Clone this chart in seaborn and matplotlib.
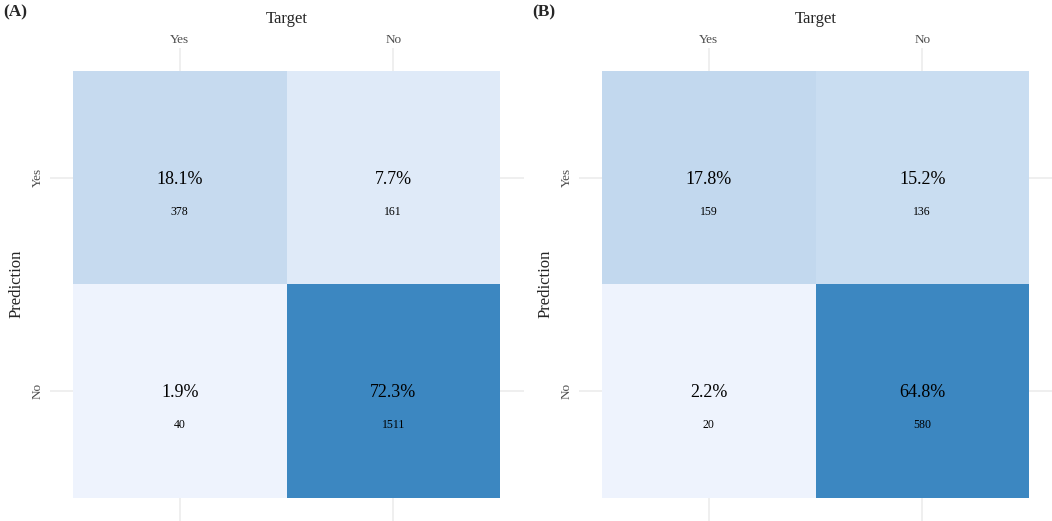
import numpy as np
import matplotlib
matplotlib.use("Agg")
import matplotlib.pyplot as plt
import seaborn as sns
from matplotlib.colors import LinearSegmentedColormap

# confusion matrices: rows = Prediction (Yes, No), cols = Target (Yes, No)
labels = ["Yes", "No"]
counts_a = np.array([[378, 161],
                     [40, 1511]])
counts_b = np.array([[159, 136],
                     [20, 580]])
panel_tags = ["(A)", "(B)"]

LOW, HIGH = "#EEF3FD", "#3C87C1"
GRID = "#EBEBEB"
cmap = LinearSegmentedColormap.from_list("cm_blues", [LOW, HIGH])

sns.set_style("white")
plt.rcParams["font.family"] = ["Liberation Serif", "DejaVu Serif"]

fig = plt.figure(figsize=(10.52, 5.21), dpi=100)
W, H = 1052, 521
exp = 0.11


def draw_cm(ax, counts, tag):
    pct = counts / counts.sum() * 100
    sns.heatmap(pct, cmap=cmap, cbar=False, ax=ax, linewidths=0,
                xticklabels=labels, yticklabels=labels)
    for i in range(2):
        for j in range(2):
            ax.text(j + 0.5, i + 0.5, f"{pct[i, j]:.1f}%", ha="center",
                    va="center_baseline", fontsize=13, color="black")
            ax.text(j + 0.5, i + 0.655, f"{counts[i, j]}", ha="center",
                    va="center_baseline", fontsize=8.5, color="black")
    ax.set_xlim(-exp, 2 + exp)
    ax.set_ylim(2 + exp, -exp)
    ax.xaxis.tick_top()
    ax.xaxis.set_label_position("top")
    ax.tick_params(length=0, labelsize=9.5, labelcolor="#4D4D4D")
    ax.tick_params(axis="x", pad=1)
    ax.tick_params(axis="y", pad=4)
    plt.setp(ax.get_yticklabels(), rotation=90, va="center")
    plt.setp(ax.get_xticklabels(), rotation=0)
    ax.set_axisbelow(True)
    ax.grid(True, color=GRID, lw=1.1)
    for s in ax.spines.values():
        s.set_visible(False)
    ax.set_xlabel("Target", fontsize=12, labelpad=8)
    ax.set_ylabel("Prediction", fontsize=12, labelpad=5)
    ax.text(-0.098, 1.075, tag, transform=ax.transAxes, fontsize=12.5,
            fontweight="bold", ha="left", va="center")


for k, (counts, tag) in enumerate(zip([counts_a, counts_b], panel_tags)):
    left = (49.5 + k * 529) / W
    ax = fig.add_axes([left, 0, 474 / W, 473.5 / H])
    draw_cm(ax, counts, tag)

fig.savefig("out.png", dpi=100)
